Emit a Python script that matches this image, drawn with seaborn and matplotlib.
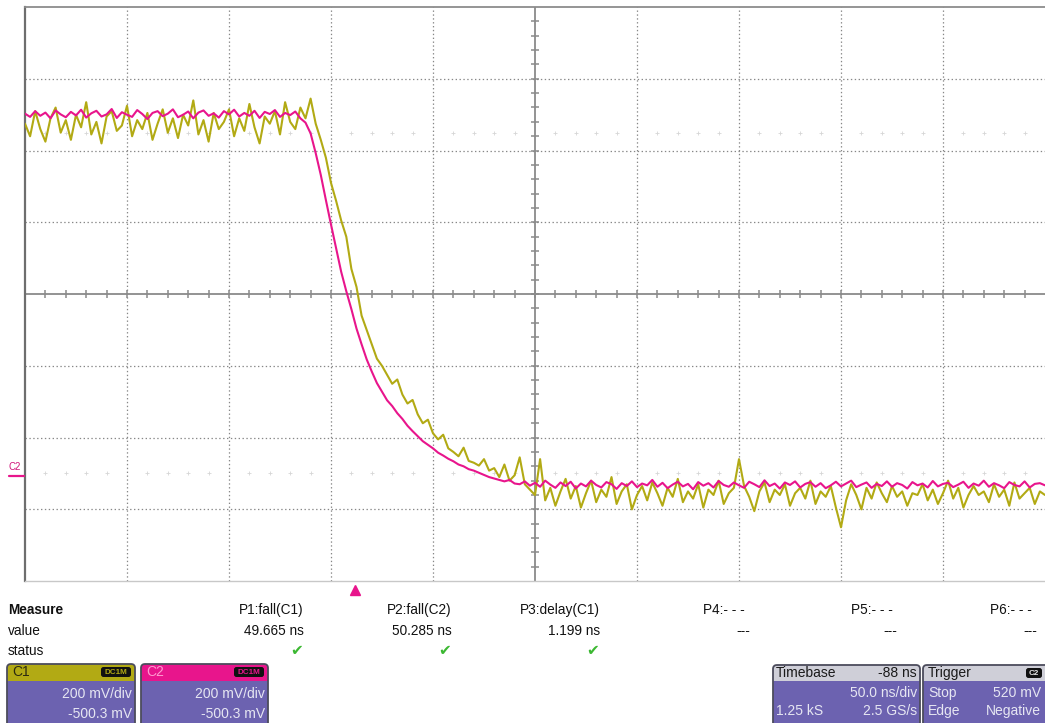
import numpy as np
import pandas as pd
import matplotlib
matplotlib.use("Agg")
import matplotlib.pyplot as plt
import seaborn as sns
from matplotlib.patches import FancyBboxPatch, Rectangle
from matplotlib.transforms import blended_transform_factory

# ---------------- data ----------------
T_START_NS = -162.0      # time of first sample (trigger at 0 ns)
T_STEP_NS = 2.5          # spacing of the read-off samples

# Channel 1 (olive) in mV
c1_mv = [
    975, 940, 1010, 960, 925, 990, 1020, 950, 985, 930,
    1000, 965, 1035, 945, 980, 920, 995, 1010, 955, 970,
    1025, 940, 985, 960, 1005, 930, 975, 1015, 950, 990,
    935, 1000, 970, 1040, 945, 985, 925, 1005, 960, 980,
    1015, 940, 990, 955, 1030, 965, 920, 995, 975, 1010,
    945, 1035, 980, 960, 1020, 990, 1045, 975, 930, 880,
    810, 760, 705, 660, 570, 520, 440, 400, 360, 320,
    300, 275, 250, 262, 220, 195, 205, 165, 140, 150,
    112, 95, 108, 70, 60, 48, 72, 35, 30, 22,
    40, 8, 15, -10, 25, -20, -5, 45, -30, -45,
    -60, 40, -75, -40, -90, -50, -15, -70, -35, -95,
    -55, -20, -80, -45, -65, -10, -85, -50, -30, -100,
    -60, -35, -75, -25, -55, -90, -40, -65, -15, -80,
    -50, -70, -30, -95, -45, -60, -20, -85, -55, -40,
    40, -35, -65, -105, -50, -25, -80, -45, -60, -30,
    -90, -55, -40, -70, -20, -85, -50, -65, -35, -95,
    -150, -75, -30, -60, -100, -40, -70, -25, -55, -80,
    -35, -65, -50, -90, -55, -60, -30, -75, -45, -85,
    -55, -20, -70, -40, -95, -60, -35, -60, -50, -80,
    -30, -65, -45, -90, -25, -70, -55, -40, -85, -50,
    -60,
]

# Channel 2 (magenta) in mV
c2_mv = [
    1003, 994, 1010, 997, 1006, 990, 1012, 1001, 993, 1008,
    998, 1014, 992, 1004, 1011, 995, 1001, 1016, 991, 1007,
    1000, 994, 1013, 1002, 988, 1005, 1010, 996, 1003, 1015,
    993, 1000, 1009, 990, 1006, 1012, 997, 1004, 992, 1010,
    1001, 1014, 995, 1005, 997, 1011, 991, 1008, 1002, 1013,
    994, 1005, 999, 1009, 990, 978, 948, 893, 832, 762,
    694, 628, 562, 508, 458, 404, 360, 318, 284, 252,
    228, 204, 188, 168, 152, 133, 118, 104, 90, 80,
    70, 58, 50, 41, 34, 25, 20, 12, 8, 2,
    -4, -10, -14, -18, -22, -18, -28, -30, -22, -34,
    -26, -37, -20, -31, -40, -25, -35, -23, -42, -28,
    -36, -20, -32, -39, -24, -30, -43, -27, -35, -22,
    -38, -28, -33, -18, -37, -26, -41, -31, -23, -36,
    -29, -44, -24, -34, -27, -39, -21, -32, -37, -25,
    -33, -40, -23, -30, -38, -19, -35, -28, -42, -25,
    -32, -22, -39, -29, -24, -37, -27, -41, -33, -23,
    -36, -28, -20, -38, -31, -25, -40, -29, -35, -22,
    -37, -27, -32, -42, -24, -33, -28, -39, -21, -36,
    -29, -26, -38, -31, -23, -40, -28, -34, -20, -37,
    -27, -33, -41, -24, -32, -36, -22, -39, -29, -27,
    -33,
]

channels = ["C1", "C2"]
channel_colors = ["#b2aa14", "#e8158c"]
ns_per_div = 50.0
mv_per_div = 200.0
channel_offset_mv = -500.3
trigger_time_ns = 0.0
timebase_delay_ns = -88.0
level_marker_mv = [950.0, 0.0]

measure_names = ["P1:fall(C1)", "P2:fall(C2)", "P3:delay(C1)", "P4:- - -", "P5:- - -", "P6:- - -"]
measure_values = ["49.665 ns", "50.285 ns", "1.199 ns", "---", "---", "---"]
measure_ok = [True, True, True, False, False, False]

# ---------------- figure ----------------
sns.set_style("white")
plt.rcParams["font.family"] = ["Liberation Sans", "DejaVu Sans"]

W, H = 1045, 723
fig = plt.figure(figsize=(W / 100, H / 100), dpi=100)
fig.patch.set_facecolor("white")

ax = fig.add_axes([25 / W, (H - 581) / H, 1020 / W, 574 / H])

df = pd.concat([
    pd.DataFrame({"time": T_START_NS + T_STEP_NS * np.arange(len(v)), "mV": v, "ch": ch})
    for ch, v in zip(channels, [c1_mv, c2_mv])
], ignore_index=True)

center_t = trigger_time_ns - timebase_delay_ns
center_v = -channel_offset_mv
x0, x1 = center_t - 5 * ns_per_div, center_t + 5 * ns_per_div
y0, y1 = center_v - 4 * mv_per_div, center_v + 4 * mv_per_div

# grid
dot = (0, (1.1, 2.0))
for i in range(1, 10):
    xv = x0 + i * ns_per_div
    if i == 5:
        ax.axvline(xv, color="#8a8a8a", lw=1.3, zorder=1)
    else:
        ax.axvline(xv, color="#878787", lw=0.9, ls=dot, zorder=1)
for j in range(1, 8):
    yv = y0 + j * mv_per_div
    if j == 4:
        ax.axhline(yv, color="#8a8a8a", lw=1.3, zorder=1)
    else:
        ax.axhline(yv, color="#878787", lw=0.9, ls=dot, zorder=1)

# minor ticks on centre cross
xt = x0 + ns_per_div / 5 * np.arange(1, 50)
ax.plot(xt, np.full_like(xt, center_v), ls="none", marker="|", ms=6, mew=1.1, color="#8a8a8a", zorder=1)
yt = y0 + mv_per_div / 5 * np.arange(1, 40)
ax.plot(np.full_like(yt, center_t), yt, ls="none", marker="_", ms=6, mew=1.1, color="#8a8a8a", zorder=1)

# faint level markers
xm = np.array([v for v in x0 + ns_per_div / 5 * np.arange(1, 50)
               if abs(((v - x0) / ns_per_div) - round((v - x0) / ns_per_div)) > 1e-6])
for lv in level_marker_mv:
    ax.plot(xm, np.full_like(xm, lv), ls="none", marker="+", ms=3, mew=0.6, color="#d6d6d6", zorder=1)

sns.lineplot(data=df, x="time", y="mV", hue="ch", hue_order=channels,
             palette=channel_colors, estimator=None, sort=False, legend=False,
             lw=1.5, ax=ax, zorder=3)

ax.set_xlim(x0, x1)
ax.set_ylim(y0, y1)
ax.set_xticks([])
ax.set_yticks([])
ax.set_xlabel("")
ax.set_ylabel("")
ax.spines["right"].set_visible(False)
ax.spines["left"].set_color("#6e6e6e")
ax.spines["left"].set_linewidth(1.6)
ax.spines["top"].set_color("#8c8c8c")
ax.spines["top"].set_linewidth(1.3)
ax.spines["bottom"].set_color("#c8c8c8")
ax.spines["bottom"].set_linewidth(1.0)

# trigger marker
tr = blended_transform_factory(ax.transData, ax.transAxes)
ax.plot([trigger_time_ns], [-0.016], transform=tr, marker="^", ms=7, color="#e8158c",
        clip_on=False, ls="none", zorder=5)

# ---------------- overlay (pixel coords) ----------------
ov = fig.add_axes([0, 0, 1, 1], zorder=10)
ov.set_xlim(0, W)
ov.set_ylim(H, 0)
ov.axis("off")
ov.patch.set_alpha(0)

# C2 ground marker
ov.text(15, 467, "C2", fontsize=7, color="#d0157a", ha="center", va="center")
ov.plot([9, 24], [476, 476], color="#e8158c", lw=1.6)

fs = 9.8
ov.text(8, 610, "Measure", fontsize=fs, fontweight="bold", va="center", ha="left", color="#111111")
ov.text(8, 631, "value", fontsize=fs, va="center", ha="left", color="#111111")
ov.text(8, 651, "status", fontsize=fs, va="center", ha="left", color="#111111")

right_edges = [304, 452, 600]
for k in range(3):
    ov.text(right_edges[k], 610, measure_names[k], fontsize=fs, va="center", ha="right", color="#111111")
    ov.text(right_edges[k], 631, measure_values[k], fontsize=fs, va="center", ha="right", color="#111111")
    if measure_ok[k]:
        ov.text(right_edges[k] - 7, 651, "\u2714", fontsize=11, va="center", ha="center",
                color="#3cb832", family=["DejaVu Sans"])
left_starts = [703, 851, 990]
dash_centers = [743, 890, 1030]
for k in range(3, 6):
    ov.text(left_starts[k - 3], 610, measure_names[k], fontsize=fs, va="center", ha="left", color="#111111")
    ov.text(dash_centers[k - 3], 631, measure_values[k], fontsize=fs, va="center", ha="center", color="#111111")

BODY = "#6c62b0"
EDGE = "#4c4c5c"
TXT = "#e6e6f2"


def panel(xa, xb, ya, yb, hh, hcolor):
    ov.add_patch(FancyBboxPatch((xa, ya), xb - xa, yb - ya, boxstyle="round,pad=0,rounding_size=4",
                                fc=BODY, ec="none"))
    ov.add_patch(FancyBboxPatch((xa, ya), xb - xa, hh, boxstyle="round,pad=0,rounding_size=4",
                                fc=hcolor, ec="none"))
    ov.add_patch(Rectangle((xa, ya + hh / 2), xb - xa, hh / 2, fc=hcolor, ec="none"))
    ov.add_patch(FancyBboxPatch((xa, ya), xb - xa, yb - ya, boxstyle="round,pad=0,rounding_size=4",
                                fc="none", ec=EDGE, lw=1.3))


def badge(xr, yc, label, color, w=30):
    ov.add_patch(FancyBboxPatch((xr - w, yc - 5), w, 10, boxstyle="round,pad=0,rounding_size=2.5",
                                fc="#111111", ec="none"))
    ov.text(xr - w / 2, yc + 0.5, label, fontsize=5.8, fontweight="bold", color=color, ha="center", va="center")


# channel panels
panel(7, 135, 664, 730, 17, channel_colors[0])
ov.text(12, 672, "C1", fontsize=10, color="#2a2a10", va="center", ha="left")
badge(131, 672, "DC1M", channel_colors[0])
ov.text(132, 694, "200 mV/div", fontsize=10, color=TXT, va="center", ha="right")
ov.text(132, 714, "-500.3 mV", fontsize=10, color=TXT, va="center", ha="right")

panel(141, 268, 664, 730, 17, channel_colors[1])
ov.text(146, 672, "C2", fontsize=10, color="#ff9ad0", va="center", ha="left")
badge(264, 672, "DC1M", channel_colors[1])
ov.text(265, 694, "200 mV/div", fontsize=10, color=TXT, va="center", ha="right")
ov.text(265, 714, "-500.3 mV", fontsize=10, color=TXT, va="center", ha="right")

# timebase panel
panel(773, 920, 665, 730, 16, "#cfcfd8")
ov.text(776, 673, "Timebase", fontsize=10, color="#1a1a1a", va="center", ha="left")
ov.text(917, 673, "-88 ns", fontsize=10, color="#1a1a1a", va="center", ha="right")
ov.text(917, 693, "50.0 ns/div", fontsize=10, color=TXT, va="center", ha="right")
ov.text(776, 711, "1.25 kS", fontsize=10, color=TXT, va="center", ha="left")
ov.text(917, 711, "2.5 GS/s", fontsize=10, color=TXT, va="center", ha="right")

# trigger panel
panel(923, 1075, 665, 730, 16, "#cfcfd8")
ov.text(928, 673, "Trigger", fontsize=10, color="#1a1a1a", va="center", ha="left")
badge(1042, 673, "C2", "#e8e8e8", w=16)
ov.text(928, 693, "Stop", fontsize=10, color=TXT, va="center", ha="left")
ov.text(1041, 693, "520 mV", fontsize=10, color=TXT, va="center", ha="right")
ov.text(928, 711, "Edge", fontsize=10, color=TXT, va="center", ha="left")
ov.text(1041, 711, "Negative", fontsize=10, color=TXT, va="center", ha="right")

fig.savefig("out.png", dpi=100)
